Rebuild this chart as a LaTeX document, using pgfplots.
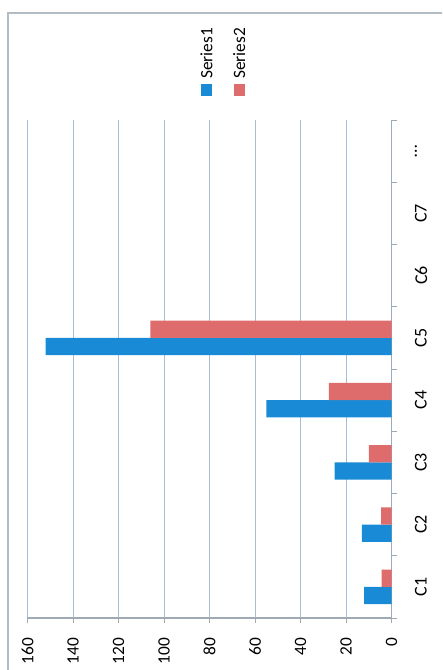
\documentclass[border=0pt]{standalone}
\usepackage{pgfplots}
\pgfplotsset{compat=1.18}
\usepackage{fontspec}
\setmainfont{Carlito}
\definecolor{sblue}{RGB}{24,138,214}
\definecolor{sred}{RGB}{222,108,108}
\definecolor{gridc}{RGB}{170,190,210}
\definecolor{axc}{RGB}{160,170,180}
\begin{document}
\begin{tikzpicture}
\begin{axis}[
  at={(157.125pt,225.75pt)}, anchor=center,
  scale only axis, width=273pt, height=373.5pt,
  xbar, bar width=13pt,
  x dir=reverse, xmin=0, xmax=160, xtick={0,20,...,160},
  ymin=-0.5, ymax=7.5, ytick={0,1,2,3,4,5,6,7},
  yticklabels={C1,C2,C3,C4,C5,C6,C7,\ldots},
  minor ytick={-0.5,0.5,1.5,2.5,3.5,4.5,5.5,6.5,7.5},
  axis x line*=bottom, axis y line*=right,
  axis line style={draw=axc, line width=0.8pt, -},
  xmajorgrids, grid style={gridc, line width=0.6pt},
  tick align=outside,
  major tick length=4pt, minor tick length=4pt,
  major y tick style={draw=none},
  tick style={axc, line width=0.6pt},
  /pgf/number format/assume math mode=true,
  xticklabel style={font=\fontsize{13}{13}\selectfont, yshift=-7.5pt, rotate=90, anchor=east},
  yticklabel style={font=\fontsize{13.5}{13.5}\selectfont, xshift=10pt, rotate=90, anchor=north},
  legend image code/.code={},
  legend columns=2,
  legend style={anchor=south west, at={(0.449,1.048)}, inner sep=0pt,
    nodes={rotate=90, inner sep=0pt, anchor=west}, column sep=7pt,
    draw=none, fill=none, font=\fontsize{13}{13}\selectfont},
]
\addplot[fill=sblue, draw=none, bar shift=-6.5pt] coordinates {(12,0) (13,1) (25,2) (55,3) (152,4)};
\addplot[fill=sred, draw=none, bar shift=6.5pt] coordinates {(4.3,0) (4.6,1) (10,2) (27.5,3) (106,4)};
\addlegendentry{\textcolor{sblue}{\rule{8.5pt}{8.5pt}}\hspace{4pt}Series1}
\addlegendentry{\textcolor{sred}{\rule{8.5pt}{8.5pt}}\hspace{4pt}Series2}
\end{axis}
\draw[axc!80, line width=1.1pt] (6pt,0pt) -- (6pt,492.75pt) -- (331.5pt,492.75pt);
\pgfresetboundingbox
\useasboundingbox (0,0) rectangle (331.5pt,502.5pt);
\end{tikzpicture}
\end{document}
